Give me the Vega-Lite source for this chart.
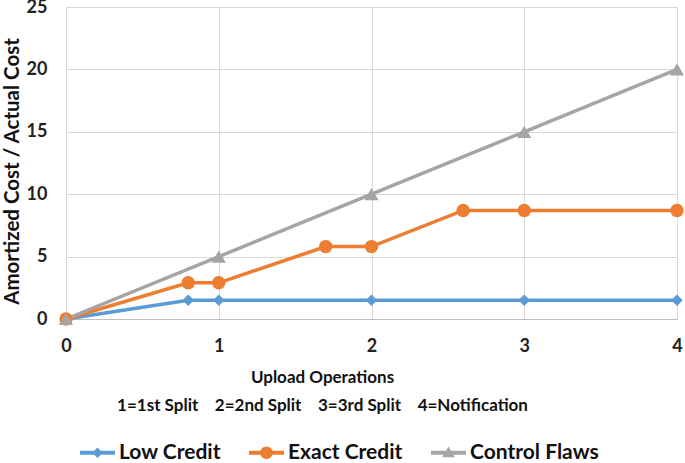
{
  "$schema": "https://vega.github.io/schema/vega-lite/v6.json",
  "width": 611,
  "height": 312,
  "autosize": {"type": "none"},
  "padding": {"left": 66, "top": 7, "right": 8, "bottom": 144},
  "background": "white",
  "config": {
    "view": {"stroke": null},
    "font": "Lato"
  },
  "data": {
    "values": [
      {"series": "Low Credit", "x": 0, "y": 0},
      {"series": "Low Credit", "x": 0.8, "y": 1.5},
      {"series": "Low Credit", "x": 1, "y": 1.5},
      {"series": "Low Credit", "x": 2, "y": 1.5},
      {"series": "Low Credit", "x": 3, "y": 1.5},
      {"series": "Low Credit", "x": 4, "y": 1.5},
      {"series": "Exact Credit", "x": 0, "y": 0},
      {"series": "Exact Credit", "x": 0.8, "y": 2.9},
      {"series": "Exact Credit", "x": 1, "y": 2.9},
      {"series": "Exact Credit", "x": 1.7, "y": 5.8},
      {"series": "Exact Credit", "x": 2, "y": 5.8},
      {"series": "Exact Credit", "x": 2.6, "y": 8.7},
      {"series": "Exact Credit", "x": 3, "y": 8.7},
      {"series": "Exact Credit", "x": 4, "y": 8.7},
      {"series": "Control Flaws", "x": 0, "y": 0},
      {"series": "Control Flaws", "x": 1, "y": 5},
      {"series": "Control Flaws", "x": 2, "y": 10},
      {"series": "Control Flaws", "x": 3, "y": 15},
      {"series": "Control Flaws", "x": 4, "y": 20}
    ]
  },
  "encoding": {
    "x": {
      "field": "x",
      "type": "quantitative",
      "scale": {"domain": [0, 4], "nice": false},
      "axis": {
        "values": [0, 1, 2, 3, 4],
        "format": "d",
        "grid": true,
        "gridColor": "#d9d9d9",
        "gridWidth": 1,
        "domain": true,
        "domainColor": "#bfbfbf",
        "domainWidth": 1,
        "ticks": false,
        "labelFlush": false,
        "labelPadding": 18,
        "labelFont": "Lato",
        "labelFontWeight": "bold",
        "labelFontSize": 18,
        "labelColor": "#222222",
        "title": ["Upload Operations", "1=1st Split\u00a0\u00a0\u00a0 2=2nd Split\u00a0\u00a0\u00a0 3=3rd Split\u00a0\u00a0\u00a0 4=Notification"],
        "titleFont": "Lato",
        "titleFontWeight": "bold",
        "titleFontSize": 17,
        "titleColor": "#111111",
        "titleLineHeight": 28,
        "titleAlign": "center",
        "titleBaseline": "middle",
        "titleAnchor": "start",
        "titleX": 256,
        "titleY": 58
      }
    },
    "y": {
      "field": "y",
      "type": "quantitative",
      "scale": {"domain": [0, 25], "nice": false},
      "axis": {
        "values": [0, 5, 10, 15, 20, 25],
        "grid": true,
        "gridColor": "#d9d9d9",
        "gridWidth": 1,
        "domain": false,
        "ticks": false,
        "labelPadding": 19,
        "labelFont": "Lato",
        "labelFontWeight": "bold",
        "labelFontSize": 18,
        "labelColor": "#222222",
        "title": "Amortized Cost / Actual Cost",
        "titleFont": "Lato",
        "titleFontWeight": "bold",
        "titleFontSize": 20.5,
        "titleColor": "#111111",
        "titleAlign": "center",
        "titleBaseline": "middle",
        "titleAngle": -90,
        "titleX": -54,
        "titleY": 164
      }
    },
    "color": {
      "field": "series",
      "type": "nominal",
      "scale": {
        "domain": ["Low Credit", "Exact Credit", "Control Flaws"],
        "range": ["#5B9BD5", "#ED7D31", "#A5A5A5"]
      },
      "legend": {
        "title": null,
        "orient": "none",
        "direction": "horizontal",
        "legendX": 14,
        "legendY": 428,
        "padding": 0,
        "symbolSize": 1225,
        "labelOffset": 4,
        "columnPadding": 28,
        "labelFont": "Lato",
        "labelFontWeight": "bold",
        "labelFontSize": 21,
        "labelColor": "#111111",
        "encode": {
          "symbols": {
            "update": {
              "shape": {"signal": "datum.value === 'Low Credit' ? 'M-1,-0.11H1V0.11H-1Z M0,-0.3L0.3,0L0,0.3L-0.3,0Z' : datum.value === 'Exact Credit' ? 'M-1,-0.11H1V0.11H-1Z M0.36,0A0.36,0.36 0 1,1 -0.36,0A0.36,0.36 0 1,1 0.36,0Z' : 'M-1,-0.11H1V0.11H-1Z M0,-0.36L0.36,0.26L-0.36,0.26Z'"},
              "fill": {"signal": "scale('color', datum.value)"},
              "size": {"value": 1225},
              "strokeWidth": {"value": 0},
              "opacity": {"value": 1}
            }
          }
        }
      }
    }
  },
  "layer": [
    {
      "mark": {"type": "line", "strokeWidth": 3.5},
      "encoding": {}
    },
    {
      "transform": [{"filter": "datum.series === 'Low Credit'"}],
      "mark": {"type": "point", "filled": true, "opacity": 1, "shape": "diamond", "size": 130}
    },
    {
      "transform": [{"filter": "datum.series === 'Exact Credit'"}],
      "mark": {"type": "point", "filled": true, "opacity": 1, "shape": "circle", "size": 180}
    },
    {
      "transform": [{"filter": "datum.series === 'Control Flaws'"}],
      "mark": {"type": "point", "filled": true, "opacity": 1, "shape": "triangle-up", "size": 200}
    }
  ]
}
